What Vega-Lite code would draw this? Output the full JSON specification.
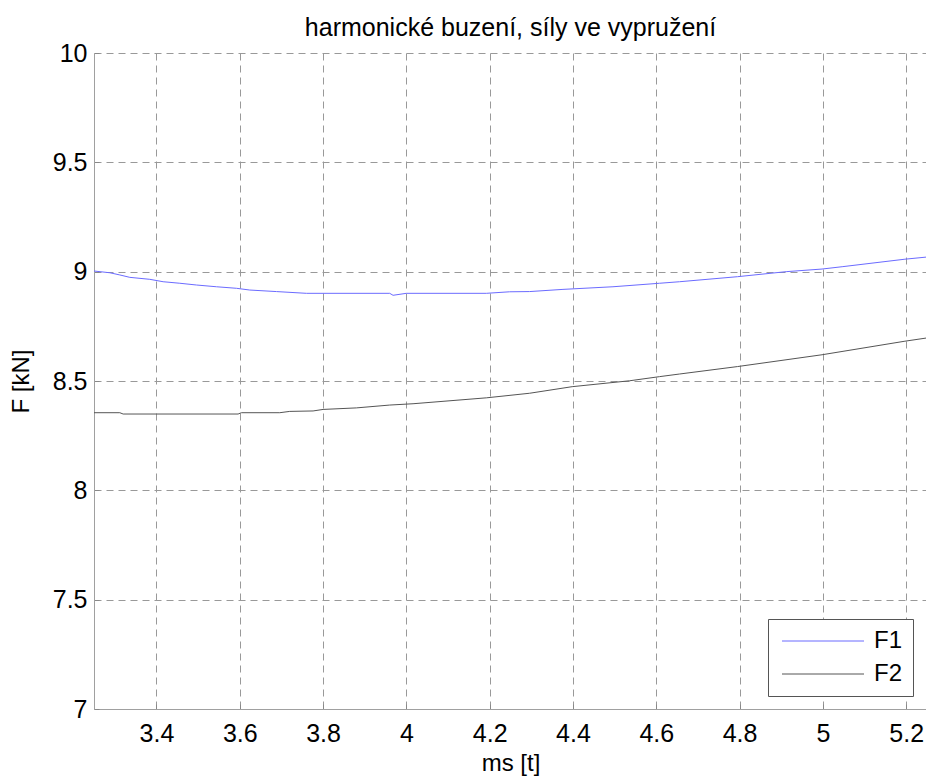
{
  "$schema": "https://vega.github.io/schema/vega-lite/v6.json",
  "width": 833,
  "height": 656,
  "autosize": "none",
  "padding": {"left": 94, "top": 53, "right": 0, "bottom": 69},
  "background": "white",
  "title": {
    "text": "harmonické buzení, síly ve vypružení",
    "font": "Liberation Sans",
    "fontSize": 25,
    "fontWeight": "normal",
    "color": "black",
    "anchor": "middle",
    "baseline": "alphabetic",
    "offset": -20
  },
  "config": {
    "view": {"stroke": null},
    "axis": {
      "labelFont": "Liberation Sans",
      "labelFontSize": 25,
      "labelColor": "black",
      "titleFont": "Liberation Sans",
      "titleFontSize": 24,
      "titleFontWeight": "normal",
      "titleColor": "black",
      "domainColor": "#a0a0a0",
      "domainWidth": 1,
      "grid": true,
      "gridColor": "#999999",
      "gridDash": [7, 5],
      "gridWidth": 1,
      "gridOpacity": 1,
      "ticks": true,
      "tickSize": -5,
      "tickColor": "#888888",
      "tickWidth": 1,
      "labelOverlap": false,
      "labelFlush": false
    }
  },
  "data": {
    "values": [
      {"t": 3.25, "F": 9.003, "s": "F1"},
      {"t": 3.288, "F": 8.995, "s": "F1"},
      {"t": 3.312, "F": 8.985, "s": "F1"},
      {"t": 3.336, "F": 8.974, "s": "F1"},
      {"t": 3.384, "F": 8.965, "s": "F1"},
      {"t": 3.416, "F": 8.954, "s": "F1"},
      {"t": 3.456, "F": 8.947, "s": "F1"},
      {"t": 3.496, "F": 8.939, "s": "F1"},
      {"t": 3.544, "F": 8.931, "s": "F1"},
      {"t": 3.592, "F": 8.924, "s": "F1"},
      {"t": 3.624, "F": 8.916, "s": "F1"},
      {"t": 3.688, "F": 8.909, "s": "F1"},
      {"t": 3.76, "F": 8.901, "s": "F1"},
      {"t": 3.96, "F": 8.901, "s": "F1"},
      {"t": 3.968, "F": 8.892, "s": "F1"},
      {"t": 4.0, "F": 8.901, "s": "F1"},
      {"t": 4.192, "F": 8.901, "s": "F1"},
      {"t": 4.248, "F": 8.908, "s": "F1"},
      {"t": 4.296, "F": 8.909, "s": "F1"},
      {"t": 4.376, "F": 8.919, "s": "F1"},
      {"t": 4.496, "F": 8.931, "s": "F1"},
      {"t": 4.608, "F": 8.947, "s": "F1"},
      {"t": 4.656, "F": 8.954, "s": "F1"},
      {"t": 4.795, "F": 8.977, "s": "F1"},
      {"t": 4.912, "F": 9.0, "s": "F1"},
      {"t": 4.998, "F": 9.012, "s": "F1"},
      {"t": 5.048, "F": 9.023, "s": "F1"},
      {"t": 5.197, "F": 9.057, "s": "F1"},
      {"t": 5.25, "F": 9.067, "s": "F1"},
      {"t": 3.25, "F": 8.355, "s": "F2"},
      {"t": 3.312, "F": 8.355, "s": "F2"},
      {"t": 3.32, "F": 8.349, "s": "F2"},
      {"t": 3.596, "F": 8.349, "s": "F2"},
      {"t": 3.604, "F": 8.355, "s": "F2"},
      {"t": 3.696, "F": 8.355, "s": "F2"},
      {"t": 3.72, "F": 8.361, "s": "F2"},
      {"t": 3.776, "F": 8.363, "s": "F2"},
      {"t": 3.8, "F": 8.37, "s": "F2"},
      {"t": 3.88, "F": 8.377, "s": "F2"},
      {"t": 3.96, "F": 8.39, "s": "F2"},
      {"t": 4.016, "F": 8.396, "s": "F2"},
      {"t": 4.192, "F": 8.423, "s": "F2"},
      {"t": 4.296, "F": 8.444, "s": "F2"},
      {"t": 4.398, "F": 8.474, "s": "F2"},
      {"t": 4.536, "F": 8.501, "s": "F2"},
      {"t": 4.608, "F": 8.52, "s": "F2"},
      {"t": 4.656, "F": 8.532, "s": "F2"},
      {"t": 4.795, "F": 8.566, "s": "F2"},
      {"t": 4.998, "F": 8.62, "s": "F2"},
      {"t": 5.197, "F": 8.682, "s": "F2"},
      {"t": 5.25, "F": 8.697, "s": "F2"}
    ]
  },
  "mark": {"type": "line", "strokeWidth": 1, "clip": true},
  "encoding": {
    "x": {
      "field": "t",
      "type": "quantitative",
      "scale": {"domain": [3.25, 5.25], "nice": false, "zero": false},
      "axis": {
        "title": "ms [t]",
        "values": [3.4, 3.6, 3.8, 4.0, 4.2, 4.4, 4.6, 4.8, 5.0, 5.2],
        "format": "~g",
        "labelPadding": 17,
        "titlePadding": 5
      }
    },
    "y": {
      "field": "F",
      "type": "quantitative",
      "scale": {"domain": [7, 10], "nice": false, "zero": false},
      "axis": {
        "title": "F [kN]",
        "values": [7, 7.5, 8, 8.5, 9, 9.5, 10],
        "format": "~g",
        "labelPadding": 12,
        "titlePadding": 19
      }
    },
    "color": {
      "field": "s",
      "type": "nominal",
      "scale": {"domain": ["F1", "F2"], "range": ["#6b6bff", "#555555"]},
      "legend": {
        "title": null,
        "orient": "none",
        "legendX": 674,
        "legendY": 566,
        "padding": 10,
        "strokeColor": "#555555",
        "fillColor": "white",
        "symbolType": "M-4,0H37",
        "symbolSize": 16,
        "symbolStrokeWidth": 1,
        "labelFont": "Liberation Sans",
        "labelFontSize": 24,
        "labelColor": "black",
        "labelOffset": 72,
        "rowPadding": 9
      }
    }
  }
}
